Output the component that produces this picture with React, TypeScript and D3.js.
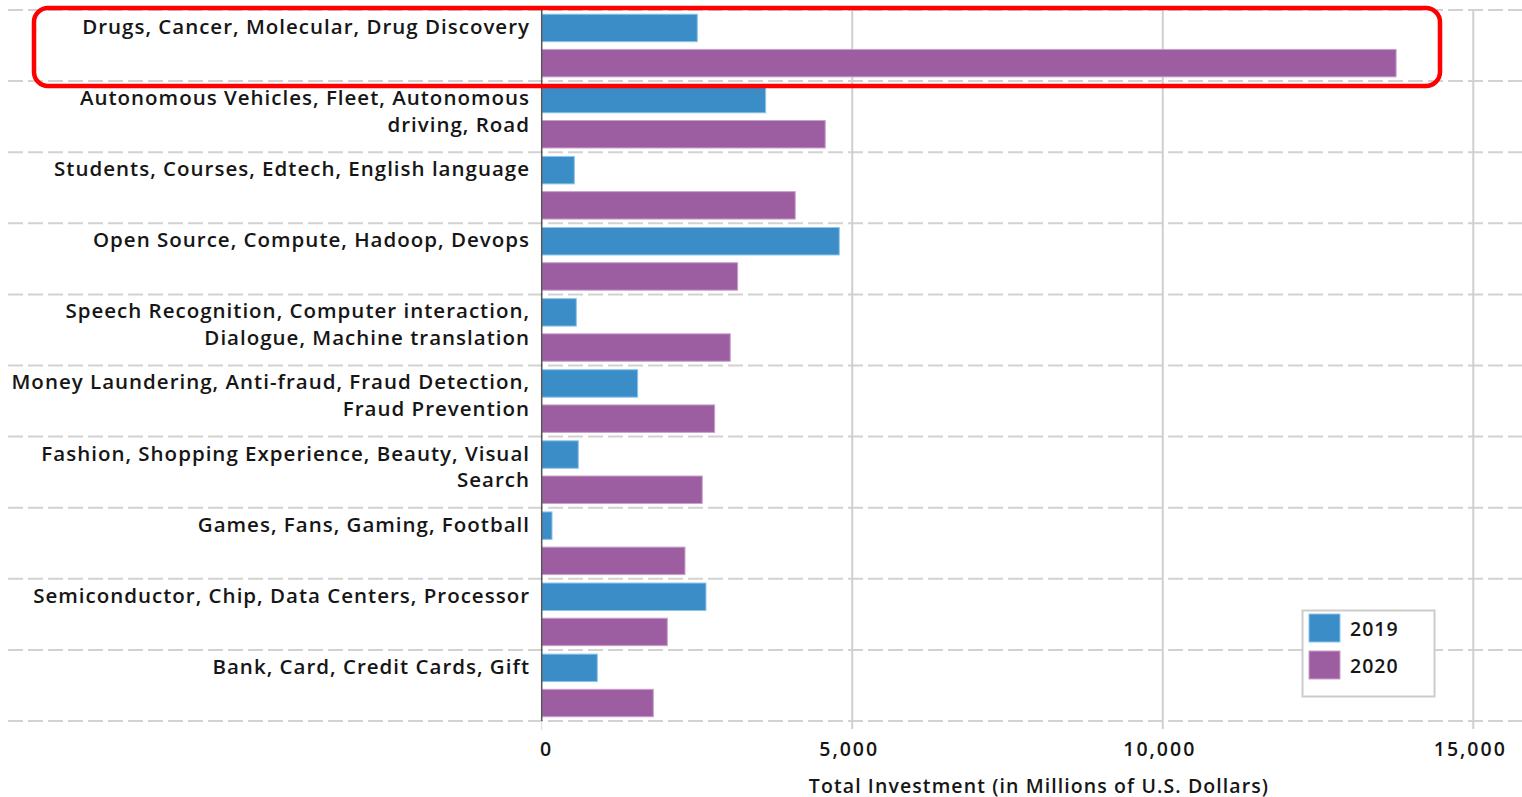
import React from "react";
import * as d3 from "d3";

const categories = [
  "Drugs, Cancer, Molecular, Drug Discovery",
  "Autonomous Vehicles, Fleet, Autonomous driving, Road",
  "Students, Courses, Edtech, English language",
  "Open Source, Compute, Hadoop, Devops",
  "Speech Recognition, Computer interaction, Dialogue, Machine translation",
  "Money Laundering, Anti-fraud, Fraud Detection, Fraud Prevention",
  "Fashion, Shopping Experience, Beauty, Visual Search",
  "Games, Fans, Gaming, Football",
  "Semiconductor, Chip, Data Centers, Processor",
  "Bank, Card, Credit Cards, Gift",
];

const labelLines = [
  ["Drugs, Cancer, Molecular, Drug Discovery"],
  ["Autonomous Vehicles, Fleet, Autonomous", "driving, Road"],
  ["Students, Courses, Edtech, English language"],
  ["Open Source, Compute, Hadoop, Devops"],
  ["Speech Recognition, Computer interaction,", "Dialogue, Machine translation"],
  ["Money Laundering, Anti-fraud, Fraud Detection,", "Fraud Prevention"],
  ["Fashion, Shopping Experience, Beauty, Visual", "Search"],
  ["Games, Fans, Gaming, Football"],
  ["Semiconductor, Chip, Data Centers, Processor"],
  ["Bank, Card, Credit Cards, Gift"],
];

const seriesNames = ["2019", "2020"];
const values2019 = [2505, 3606, 525, 4791, 557, 1545, 589, 166, 2645, 895];
const values2020 = [13757, 4565, 4082, 3155, 3036, 2785, 2585, 2307, 2022, 1797];
const xTicks = [0, 5000, 10000, 15000];
const axisTitle = "Total Investment (in Millions of U.S. Dollars)";

const colors = ["#3b8dc8", "#9c5ea1"];
const strokes = ["#8cc4ea", "#c9a0cc"];
const FONT = "'Open Sans', sans-serif";
const TEXT = "#161616";

export default function App() {
  const W = 1522;
  const H = 797;
  const x = d3.scaleLinear().domain([0, 15000]).range([541.7, 1473.3]);
  const y0 = d3.scaleBand<string>().domain(categories).range([10, 721]).padding(0);
  const y1 = d3
    .scaleBand<string>()
    .domain(seriesNames)
    .range([0, y0.step()])
    .paddingInner(0.22)
    .paddingOuter(0.12);
  const series = [values2019, values2020];
  const fmt = d3.format(",");
  const boundaries = d3.range(categories.length + 1).map((i) => 10 + i * y0.step());

  return (
    <svg
      width={W}
      height={H}
      style={{ position: "absolute", left: 0, top: 0, display: "block", background: "#fff" }}
      fontFamily={FONT}
    >
      <rect x={0} y={0} width={W} height={H} fill="#fff" />
      {boundaries.map((b, i) => (
        <line key={"h" + i} x1={8} x2={W} y1={b} y2={b} stroke="#d2d2d2" strokeWidth={2} strokeDasharray="15,5" />
      ))}
      {xTicks.slice(1).map((t) => (
        <line key={"v" + t} x1={x(t)} x2={x(t)} y1={10} y2={729} stroke="#cfcfcf" strokeWidth={2} />
      ))}
      <line x1={x(0)} x2={x(0)} y1={721} y2={730} stroke="#d8d8d8" strokeWidth={1} />
      {categories.map((c, ci) =>
        seriesNames.map((s, si) => (
          <rect
            key={c + s}
            x={x(0)}
            y={(y0(c) as number) + (y1(s) as number)}
            width={x(series[si][ci]) - x(0)}
            height={y1.bandwidth()}
            fill={colors[si]}
            stroke={strokes[si]}
            strokeWidth={1}
          />
        ))
      )}
      <line x1={x(0)} x2={x(0)} y1={10} y2={721} stroke="#555" strokeWidth={1.5} />
      {categories.map((c, ci) => {
        const cy = (y0(c) as number) + (y1("2019") as number) + y1.bandwidth() / 2 - 2;
        return (
          <text key={"l" + c} x={530} y={cy} textAnchor="end" fontSize={20.5} fontWeight={600} letterSpacing={1.0} fill={TEXT}>
            {labelLines[ci].map((ln, li) => (
              <tspan key={li} x={530} y={cy + li * 26.5} dominantBaseline="central">
                {ln}
              </tspan>
            ))}
          </text>
        );
      })}
      {xTicks.map((t) => (
        <text key={"t" + t} x={x(t) + (t === 0 ? 5 : -3)} y={748} textAnchor="middle" dominantBaseline="central" fontSize={19.5} fontWeight={600} letterSpacing={2.0} fill={TEXT}>
          {fmt(t)}
        </text>
      ))}
      <text x={1039} y={785} textAnchor="middle" dominantBaseline="central" fontSize={19.5} fontWeight={600} letterSpacing={1.1} fill={TEXT}>
        {axisTitle}
      </text>
      <g>
        <rect x={1302.5} y={610.5} width={132} height={86} fill="#fff" stroke="#cccccc" strokeWidth={2} />
        {seriesNames.map((s, si) => (
          <g key={"lg" + s}>
            <rect x={1309} y={614 + si * 37} width={31} height={28} fill={colors[si]} stroke={strokes[si]} strokeWidth={1} />
            <text x={1350} y={628.5 + si * 37} dominantBaseline="central" fontSize={19.5} fontWeight={600} letterSpacing={1.0} fill={TEXT}>
              {s}
            </text>
          </g>
        ))}
      </g>
      <rect x={34} y={8} width={1406} height={78} rx={14} ry={14} fill="none" stroke="#ff0000" strokeWidth={4.5} />
    </svg>
  );
}
